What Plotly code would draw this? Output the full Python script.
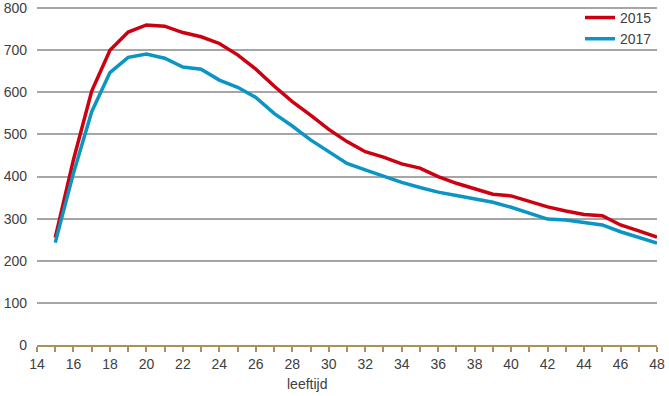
import plotly.graph_objects as go

ages = list(range(15, 49))
y2015 = [255, 440, 603, 700, 743, 760, 757, 742, 732, 716, 689, 655, 615, 578, 546, 512,
         483, 459, 446, 430, 420, 400, 384, 372, 358, 354, 340, 328, 318, 310, 307, 285, 271, 256]
y2017 = [243, 408, 554, 647, 683, 691, 681, 660, 655, 629, 612, 588, 550, 520, 487, 459,
         431, 416, 400, 386, 374, 363, 355, 348, 339, 327, 313, 299, 297, 292, 285, 269, 256, 242]
series_names = ["2015", "2017"]
series_colors = ["#cc0010", "#0a95c5"]
x_title = "leeftijd"

fig = go.Figure()
for name, vals, col in zip(series_names, [y2015, y2017], series_colors):
    fig.add_trace(go.Scatter(x=ages, y=vals, mode="lines", name=name,
                             line=dict(color=col, width=3.5)))

font_family = "Liberation Sans, Arial, sans-serif"
fig.update_layout(
    width=669, height=396,
    margin=dict(l=37, r=12, t=6, b=51, autoexpand=False),
    paper_bgcolor="white", plot_bgcolor="white",
    font=dict(family=font_family, size=14, color="#404040"),
    showlegend=True,
    legend=dict(x=1.0, y=1.012, xanchor="right", yanchor="top",
                bgcolor="rgba(0,0,0,0)", itemwidth=30,
                font=dict(size=14, color="#404040"),
                tracegroupgap=0),
    xaxis=dict(range=[14, 48], tick0=14, dtick=2, showgrid=False, zeroline=False,
               automargin=False,
               showline=True, linecolor="#a8915a", linewidth=2,
               ticks="outside", ticklen=5, tickwidth=1.5, tickcolor="#a8915a",
               minor=dict(dtick=1, ticks="outside", ticklen=5, tickwidth=1.5,
                          tickcolor="#a8915a", showgrid=False),
               tickfont=dict(size=14, color="#404040"), ticklabeloverflow="allow"),
    yaxis=dict(range=[0, 805], tick0=0, dtick=100, showgrid=True, gridcolor="#a6a6a6",
               gridwidth=1.5, zeroline=False, showline=False, automargin=False,
               ticks="", ticklabelstandoff=9, ticklabeloverflow="allow",
               tickfont=dict(size=14, color="#404040")),
    annotations=[dict(text=x_title, xref="paper", yref="paper", x=0.436, y=0,
                      yshift=-29, xanchor="center", yanchor="top", showarrow=False,
                      font=dict(size=14, color="#404040"))],
)

fig.write_html("out.html", config={"displayModeBar": False},
               post_script="document.body.style.margin='0px';")
